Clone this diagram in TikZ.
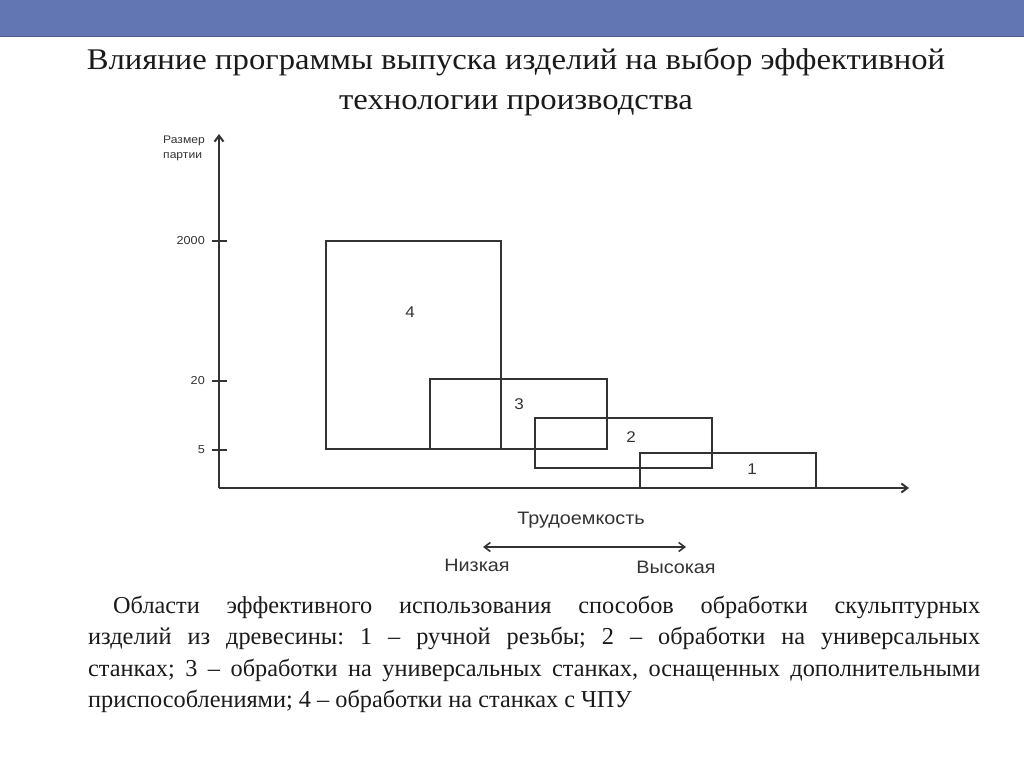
\documentclass[tikz,border=0pt]{standalone}
\usepackage{fontspec}
\setmainfont{Liberation Serif}
\setsansfont{Liberation Sans}
\newfontfamily\titlufont[FakeStretch=1.09]{Liberation Serif}
\newfontfamily\diagfont[FakeStretch=1.1]{Liberation Sans}
\usepackage{xcolor}
\usetikzlibrary{arrows.meta}
\definecolor{bara}{HTML}{6176B2}
\definecolor{ink}{HTML}{333333}
\definecolor{txt}{HTML}{1A1A1A}

\begin{document}
\frenchspacing
\begin{tikzpicture}[x=1pt, y=-1pt, >={Straight Barb[length=6pt,width=9pt]},
  box/.style={draw=ink, line width=1.6pt},
  lbl/.style={ink, font=\diagfont\fontsize{11.5}{14}\selectfont, inner sep=0pt},
  num/.style={ink, font=\diagfont\fontsize{15.5}{18}\selectfont, inner sep=0pt},
  axlbl/.style={ink, font=\diagfont\fontsize{18}{20}\selectfont, inner sep=0pt}]
  \useasboundingbox (0,0) rectangle (1024,767);

  % Bara de sus
  \fill[bara] (0,0) rectangle (1024,37);
  \draw[bara!80!black, line width=0.8pt] (0,36.6) -- (1024,36.6);

  % Titlu
  \node[txt, font=\titlufont\fontsize{30}{40}\selectfont, align=center, inner sep=0pt]
    (titlu) at (516,82) {Влияние программы выпуска изделий на выбор эффективной\\технологии производства};

  % Axe
  \draw[ink, line width=2pt, ->] (219,488) -- (219,134);
  \draw[ink, line width=2pt, ->] (219,488) -- (909,488);
  \node[lbl, align=left, anchor=north west, font=\diagfont\fontsize{11}{15}\selectfont]
    (ylbl) at (163,136) {Размер\\партии};

  % Diviziuni
  \foreach \yy/\val in {241/2000, 381/20, 450/5} {
    \draw[ink, line width=1.6pt] (212,\yy) -- (227,\yy);
    \node[lbl, anchor=east] (t\val) at (205,\yy) {\val};
  }

  % Zone 4, 3, 2, 1
  \draw[box] (326,241) rectangle (501,449);
  \draw[box] (430,379) rectangle (607,449);
  \draw[box] (535,418) rectangle (712,468);
  \draw[box] (640,453) rectangle (816,488);
  \node[num] (z4) at (410,312) {4};
  \node[num] (z3) at (519,404) {3};
  \node[num] (z2) at (631,437) {2};
  \node[num] (z1) at (752,469) {1};

  % Trudoemkost
  \node[axlbl] (trud) at (581,520) {Трудоемкость};
  \coordinate (sl) at (483,547);
  \coordinate (sr) at (686,547);
  \draw[ink, line width=1.6pt, <->] (sl) -- (sr);
  \node[axlbl] (jos) at (477,565) {Низкая};
  \node[axlbl] (sus) at (676,567) {Высокая};

  % Legenda
  \node[txt, anchor=north west, inner sep=0pt, text width=892pt, align=justify,
    font=\frenchspacing\fontsize{24.3}{31.3}\selectfont] (leg) at (88,596)
    {\hspace*{25pt}Области эффективного использования способов обработки скульптурных\linebreak
     изделий из древесины: 1 – ручной резьбы; 2 – обработки на универсальных\linebreak
     станках; 3 – обработки на универсальных станках, оснащенных дополнительными\linebreak
     приспособлениями; 4 – обработки на станках с ЧПУ};
\end{tikzpicture}
\end{document}
